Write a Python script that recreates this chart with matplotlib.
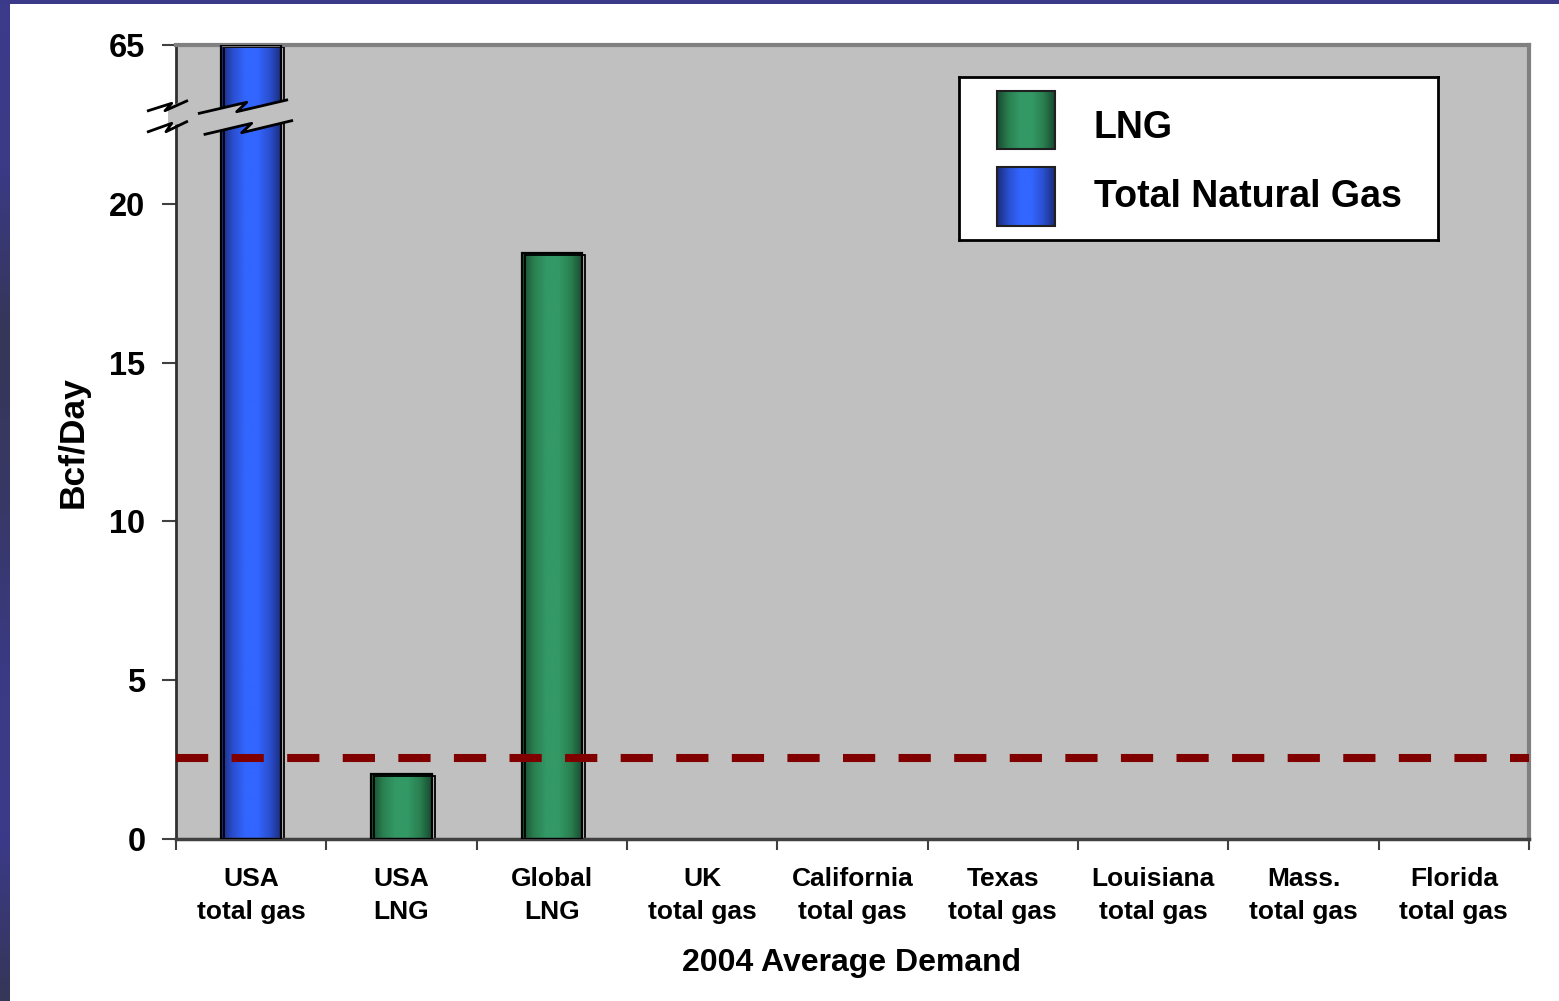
import numpy as np
import matplotlib
matplotlib.use('Agg')
import matplotlib.pyplot as plt
from matplotlib.colors import LinearSegmentedColormap
from matplotlib.patches import Rectangle, Polygon
from matplotlib.lines import Line2D
import matplotlib.transforms as mtransforms

# ---------------- data ----------------
categories = ["USA\ntotal gas", "USA\nLNG", "Global\nLNG", "UK\ntotal gas",
              "California\ntotal gas", "Texas\ntotal gas", "Louisiana\ntotal gas",
              "Mass.\ntotal gas", "Florida\ntotal gas"]
nan = np.nan
total_gas = [65.0, nan, nan, nan, nan, nan, nan, nan, nan]
lng = [nan, 2.05, 18.45, nan, nan, nan, nan, nan, nan]
threshold = 2.55
ytick_values = [0, 5, 10, 15, 20, 65]
legend_labels = ["LNG", "Total Natural Gas"]
xlabel = "2004 Average Demand"
ylabel = "Bcf/Day"

# broken axis: values above the break are shown near the top
AXIS_TOP = 25.0
BREAK_VALUE = 65.0
def to_axis(v):
    return v if v <= 22 else AXIS_TOP - (BREAK_VALUE - v)

plt.rcParams['font.family'] = ['Liberation Sans', 'DejaVu Sans']
plt.rcParams['font.weight'] = 'bold'

W, H = 1559, 1001
fig = plt.figure(figsize=(W / 100, H / 100), dpi=100)
fig.patch.set_facecolor('white')

def fx(px):
    return px / W
def fy(py):
    return 1 - py / H

# slide border (top and left)
band = fig.add_axes([0, 0, fx(10), 1])
band_cmap = LinearSegmentedColormap.from_list(
    'band', ['#3c3a8c', '#3a3a86', '#363658', '#383866', '#3a3a84', '#3b3a8a', '#363658'])
band.imshow(np.linspace(0, 1, 256)[:, None], aspect='auto', cmap=band_cmap,
            extent=(0, 1, 0, 1))
band.set_axis_off()
fig.add_artist(Rectangle((0, fy(4)), 1, 4 / H, transform=fig.transFigure,
                         facecolor='#3b3a8a', edgecolor='none', zorder=10))

ax = fig.add_axes([fx(176), fy(839), fx(1529) - fx(176), fy(45) - fy(839)])
ax.set_facecolor('#C0C0C0')

blue_cmap = LinearSegmentedColormap.from_list(
    'blue', ['#1a2b78', '#2a4fd0', '#3366ff', '#3366ff', '#2a4fd0', '#1a2b78'])
green_cmap = LinearSegmentedColormap.from_list(
    'green', ['#174a30', '#2a8050', '#339966', '#339966', '#2a8050', '#174a30'])
grad = np.linspace(0, 1, 256)[None, :]

x = np.arange(len(categories))
bw = 0.40
shadow_tr = ax.transData + mtransforms.ScaledTranslation(3 / 100, -2 / 100, fig.dpi_scale_trans)

for vals, cmap in [(total_gas, blue_cmap), (lng, green_cmap)]:
    for xi, v in zip(x, vals):
        if not np.isfinite(v):
            continue
        h = to_axis(v)
        ax.imshow(grad, extent=(xi - bw / 2, xi + bw / 2, 0, h), cmap=cmap,
                  aspect='auto', zorder=2, interpolation='bicubic')
        ax.add_patch(Rectangle((xi - bw / 2, 0), bw, h, fill=False,
                               edgecolor='black', lw=1.3, transform=shadow_tr, zorder=2.5))
        ax.add_patch(Rectangle((xi - bw / 2, 0), bw, h, fill=False,
                               edgecolor='black', lw=1.6, zorder=3))

ax.axhline(threshold, color='#800000', lw=5.8, dashes=(4.0, 2.9),
           dash_capstyle='butt', zorder=4)

ax.set_xlim(-0.5, len(categories) - 0.5)
ax.set_ylim(0, AXIS_TOP)

ax.set_xticks(x)
ax.set_xticklabels(categories, fontsize=19, fontweight='bold', linespacing=1.48)
ax.set_xticks(np.arange(-0.5, len(categories), 1), minor=True)
ax.tick_params(axis='x', which='major', length=0, pad=20)
ax.tick_params(axis='x', which='minor', length=8, width=1.5, color='#404040', direction='out')
ax.set_yticks([to_axis(v) for v in ytick_values])
ax.set_yticklabels([str(v) for v in ytick_values], fontsize=23.5, fontweight='bold')
ax.tick_params(axis='y', length=10, width=1.5, color='#404040', pad=12, direction='out')

ax.spines['left'].set_color('#303030')
ax.spines['left'].set_linewidth(2)
ax.spines['bottom'].set_color('#404040')
ax.spines['bottom'].set_linewidth(2.5)
for s in ['top', 'right']:
    ax.spines[s].set_color('#808080')
    ax.spines[s].set_linewidth(3)

# axis-break decoration (figure pixel coordinates)
def P(pts):
    return [(fx(a), fy(b)) for a, b in pts]

fill_pts = [(168, 106), (186.7, 101), (199.3, 113.3), (246.7, 102.3), (236.7, 111.7),
            (286.7, 100), (291.7, 120.7), (241.7, 132.7), (251.7, 123.3), (205, 134.3),
            (186.7, 121.7), (168, 127)]
ax.add_patch(Polygon(P(fill_pts), closed=True, transform=fig.transFigure,
                     facecolor='#C0C0C0', edgecolor='none', zorder=6, clip_on=False))
zig_lines = [
    [(148.3, 110.7), (171.7, 103.3), (165, 110.7), (186.7, 101)],
    [(199.3, 113.3), (246.7, 102.3), (236.7, 111.7), (286.7, 100)],
    [(148.3, 131.7), (171.7, 123.3), (166, 131.7), (186.7, 121.7)],
    [(205, 134.3), (251.7, 123.3), (241.7, 132.7), (291.7, 120.7)],
]
for pts in zig_lines:
    xs, ys = zip(*P(pts))
    ax.add_line(Line2D(xs, ys, transform=fig.transFigure, color='black', lw=2,
                       zorder=7, clip_on=False))

# legend box (pixel coordinates inside)
lg = fig.add_axes([fx(959), fy(240), fx(1438) - fx(959), fy(77) - fy(240)])
lg.set_zorder(20)
lg.set_facecolor('white')
lg.set_xticks([])
lg.set_yticks([])
for s in lg.spines.values():
    s.set_color('black')
    s.set_linewidth(2)
for (y0, y1), base, cmap, label in zip([(91, 149), (167, 226)], [138, 207],
                                        [green_cmap, blue_cmap], legend_labels):
    lg.imshow(grad, extent=(997, 1055, y1, y0), cmap=cmap, aspect='auto',
              interpolation='bicubic', zorder=2)
    lg.add_patch(Rectangle((997, y0), 58, y1 - y0, fill=False, edgecolor='#202020', lw=1.5, zorder=3))
    lg.text(1094, base, label, fontsize=27, fontweight='bold',
            ha='left', va='baseline')
lg.set_xlim(959, 1438)
lg.set_ylim(240, 77)

fig.text(fx(73), fy(442), ylabel, rotation=90, fontsize=25.5, fontweight='bold',
         ha='center', va='center')
fig.text(fx(852), fy(963), xlabel, fontsize=23, fontweight='bold',
         ha='center', va='center')

fig.savefig('out.png', dpi=100, facecolor='white')
